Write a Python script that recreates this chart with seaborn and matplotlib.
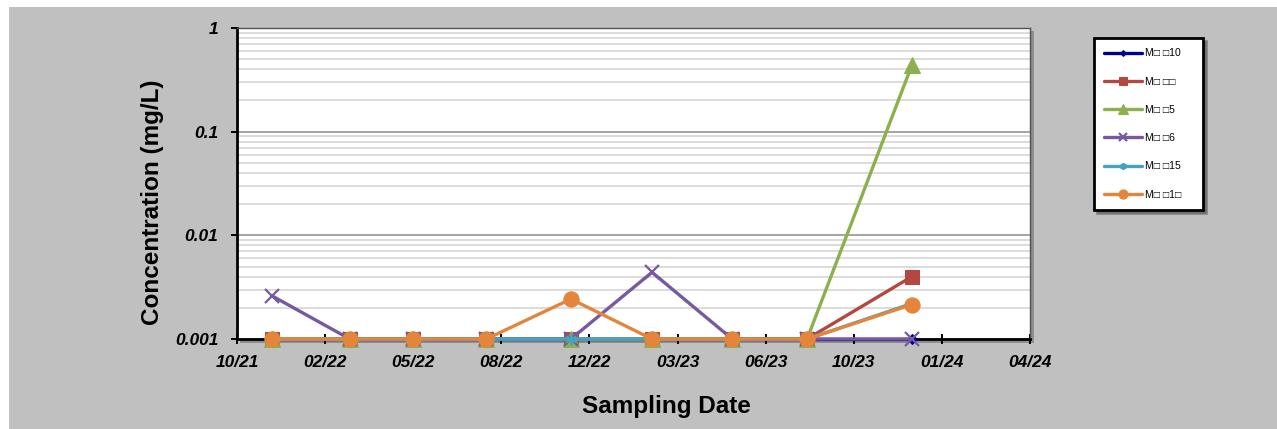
import numpy as np
import pandas as pd
import matplotlib
matplotlib.use("Agg")
import matplotlib.pyplot as plt
import matplotlib.dates as mdates
import seaborn as sns
from matplotlib.patches import Rectangle
from matplotlib.ticker import FixedLocator, LogLocator, NullFormatter, FuncFormatter

# ---------------- data ----------------
sampling_dates = ["2021-12-10", "2022-03-08", "2022-05-19", "2022-08-10", "2022-11-14",
                  "2023-02-14", "2023-05-16", "2023-08-09", "2023-12-06"]
mw_10 = [0.001, 0.001, 0.001, 0.001, 0.001, 0.001, 0.001, 0.001, 0.001]
mw_b = [0.001, 0.001, 0.001, 0.001, 0.001, 0.001, 0.001, 0.001, 0.0040]
mw_5 = [0.001, 0.001, 0.001, 0.001, 0.001, 0.001, 0.001, 0.001, 0.44]
mw_6 = [0.0026, 0.001, 0.001, 0.001, 0.001, 0.0044, 0.001, 0.001, 0.001]
mw_15 = [0.001, 0.001, 0.001, 0.001, 0.001, 0.001, 0.001, 0.001, 0.0022]
mw_1x = [0.001, 0.001, 0.001, 0.001, 0.00243, 0.001, 0.001, 0.001, 0.00215]
series_labels = ["M\u25a1 \u25a110", "M\u25a1 \u25a1\u25a1", "M\u25a1 \u25a15",
                 "M\u25a1 \u25a16", "M\u25a1 \u25a115", "M\u25a1 \u25a11\u25a1"]
y_ticks = [0.001, 0.01, 0.1, 1]
x_axis_start = "2021-10-31"
x_tick_step_days = 100
x_tick_count = 10

# ---------------- style ----------------
sns.set_style("white")
plt.rcParams['font.family'] = ['Liberation Sans', 'DejaVu Sans']
plt.rcParams['text.color'] = 'black'
plt.rcParams['axes.labelcolor'] = 'black'
plt.rcParams['xtick.color'] = 'black'
plt.rcParams['ytick.color'] = 'black'

W, H = 1277, 429
fig = plt.figure(figsize=(W / 100, H / 100), dpi=100, facecolor='white')


def fx(px):
    return px / W


def fy(py):
    return 1 - py / H


# gray chart area background
fig.add_artist(Rectangle((fx(9), 0), 1, fy(7), transform=fig.transFigure,
                         facecolor='#c0c0c0', edgecolor='none', zorder=-10))
# plot-area shadow
fig.add_artist(Rectangle((fx(240), fy(343)), fx(1034) - fx(240), fy(31) - fy(343),
                         transform=fig.transFigure, facecolor='#8e8e8e',
                         edgecolor='none', zorder=-5))

ax = fig.add_axes([fx(237), fy(339), fx(1030) - fx(237), fy(28) - fy(339)])
ax.set_facecolor('white')

dates = pd.to_datetime(sampling_dates)
series = [mw_10, mw_b, mw_5, mw_6, mw_15, mw_1x]
colors = ['#000090', '#B4473F', '#8DB04E', '#7659A0', '#45A3BE', '#E3863B']
markers = ['D', 's', '^', 'x', (6, 2, 0), 'o']
msizes = [5, 10, 11, 10, 8, 11]
mews = [0.75, 0.75, 0.75, 1.6, 1.4, 0.75]

for i, (vals, lab, col, mk, ms, mew) in enumerate(zip(series, series_labels, colors,
                                                       markers, msizes, mews)):
    sns.lineplot(x=dates, y=vals, ax=ax, color=col, marker=mk, markersize=ms,
                 markeredgecolor=col, markerfacecolor=col, markeredgewidth=mew,
                 linewidth=2.4, label=lab, clip_on=False, zorder=3 + i * 0.1)

ax.set_yscale('log')
ax.set_ylim(0.001, 1)
x0 = pd.Timestamp(x_axis_start)
xt = [x0 + pd.Timedelta(days=x_tick_step_days * i) for i in range(x_tick_count)]
ax.set_xlim(mdates.date2num(xt[0]), mdates.date2num(xt[-1]))
ax.xaxis.set_major_locator(FixedLocator(mdates.date2num(xt)))
ax.xaxis.set_major_formatter(mdates.DateFormatter('%m/%y'))

ax.yaxis.set_major_locator(FixedLocator(y_ticks))
ax.yaxis.set_minor_locator(LogLocator(base=10, subs=np.arange(2, 10)))
ax.yaxis.set_minor_formatter(NullFormatter())
ax.yaxis.set_major_formatter(FuncFormatter(lambda v, p: f"{v:g}"))

ax.set_axisbelow(True)
ax.yaxis.grid(True, which='major', color='#8c8c8c', linewidth=1.1)
ax.yaxis.grid(True, which='minor', color='#d2d2d2', linewidth=1.1)
ax.xaxis.grid(False)

ax.tick_params(axis='y', which='major', direction='out', length=4, width=1.4,
               pad=9.5, labelsize=12.5, left=True, color='black', labelcolor='black')
ax.tick_params(axis='y', which='minor', length=0)
ax.tick_params(axis='x', which='major', direction='inout', length=7, width=1.4,
               pad=8, labelsize=12.5, bottom=True, color='black', labelcolor='black')
for lab in ax.get_xticklabels() + ax.get_yticklabels():
    lab.set_fontweight('bold')
    lab.set_fontstyle('italic')

for s in ['left', 'bottom']:
    ax.spines[s].set_color('black')
    ax.spines[s].set_linewidth(2)
for s in ['top', 'right']:
    ax.spines[s].set_color('#505050')
    ax.spines[s].set_linewidth(1)

ax.set_xlabel("Sampling Date", fontsize=17.5, fontweight='bold', color='black')
ax.xaxis.set_label_coords(0.541, -0.18)
ax.set_ylabel("Concentration (mg/L)", fontsize=17.5, fontweight='bold', color='black')
ax.yaxis.set_label_coords(-0.092, 0.44)

handles, labels = ax.get_legend_handles_labels()
if ax.get_legend() is not None:
    ax.get_legend().remove()
leg = fig.legend(handles, labels, loc='upper left',
                 bbox_to_anchor=(fx(1094), fy(211), fx(1203) - fx(1094), fy(38) - fy(211)),
                 mode='expand', borderaxespad=0, fontsize=7.5, frameon=True,
                 fancybox=False, shadow=True, framealpha=1, edgecolor='black',
                 facecolor='white', labelspacing=1.75, borderpad=1.0,
                 handlelength=3.6, handletextpad=0.3, markerscale=0.6)
leg.get_frame().set_linewidth(2)
for t in leg.get_texts():
    t.set_color('black')

fig.savefig("out.png", dpi=100, facecolor=fig.get_facecolor())
